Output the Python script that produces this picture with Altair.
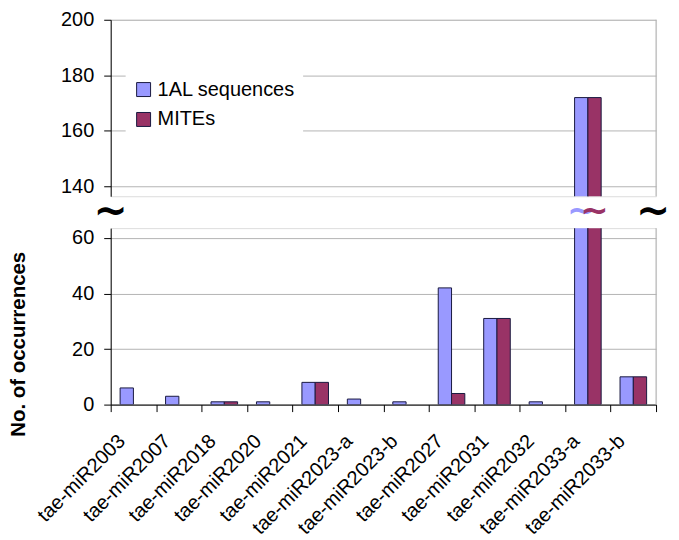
import altair as alt
import pandas as pd

categories = ["tae-miR2003", "tae-miR2007", "tae-miR2018", "tae-miR2020",
              "tae-miR2021", "tae-miR2023-a", "tae-miR2023-b", "tae-miR2027",
              "tae-miR2031", "tae-miR2032", "tae-miR2033-a", "tae-miR2033-b"]
al_seq = [6, 3, 1, 1, 8, 2, 1, 42, 31, 1, 172, 10]
mites = [0, 0, 1, 0, 8, 0, 0, 4, 31, 0, 172, 10]
series = ["1AL sequences", "MITEs"]
colors = ["#9999FF", "#993366"]
low_ticks = [0, 20, 40, 60]
high_ticks = [140, 160, 180, 200]

rows = []
for c, a, m in zip(categories, al_seq, mites):
    rows.append({"cat": c, "series": series[0], "value": a})
    rows.append({"cat": c, "series": series[1], "value": m})
df = pd.DataFrame(rows)
df = df[df["value"] > 0]

W, H = 547, 177
LOW_MAX, HIGH_MIN = 63.5, 136.5
FONT = "Liberation Sans"
EDGE = "#1a1a40"
GRID = "#b4b4b4"

xscale = alt.Scale(domain=categories, paddingInner=0, paddingOuter=0)
xoff = alt.XOffset("series:N", scale=alt.Scale(domain=series, paddingOuter=0.71, paddingInner=0))
color = alt.Color(
    "series:N",
    scale=alt.Scale(domain=series, range=colors),
    legend=alt.Legend(title=None, orient="none", legendX=15, legendY=52,
                      fillColor="white", padding=8, symbolType="square",
                      symbolSize=196, symbolStrokeColor=EDGE, symbolStrokeWidth=1,
                      labelFontSize=20, labelFont=FONT, labelColor="black",
                      rowPadding=10, labelOffset=4),
)

base = alt.Chart(df)

upper_bars = base.mark_bar(clip=True, stroke=EDGE, strokeWidth=1).encode(
    x=alt.X("cat:N", scale=xscale, sort=categories, axis=None),
    xOffset=xoff,
    y=alt.Y("value:Q",
            scale=alt.Scale(domain=[HIGH_MIN, 200], nice=False, zero=False),
            axis=alt.Axis(values=high_ticks, title=None, grid=True, gridColor=GRID,
                          labelFontSize=20, labelColor="black", labelPadding=10,
                          tickSize=7, tickColor="black", domainColor="black")),
    color=color,
)

border_df = pd.DataFrame({"k": [0]})
upper_border = alt.Chart(border_df).mark_rule(color=GRID, strokeWidth=1).encode(
    x=alt.value(W), y=alt.value(0), y2=alt.value(H))
lower_border = alt.Chart(border_df).mark_rule(color=GRID, strokeWidth=1).encode(
    x=alt.value(W), y=alt.value(0), y2=alt.value(H))

lower_bars = base.mark_bar(clip=True, stroke=EDGE, strokeWidth=1).encode(
    x=alt.X("cat:N", scale=xscale, sort=categories,
            axis=alt.Axis(title=None, labelAngle=-45, labelFontSize=20,
                          labelAlign="right", labelBaseline="top",
                          labelColor="black", tickBand="extent", tickSize=7,
                          tickColor="black", domainColor="black",
                          labelPadding=19, labelOffset=-19)),
    xOffset=xoff,
    y=alt.Y("value:Q",
            scale=alt.Scale(domain=[0, LOW_MAX], nice=False),
            axis=alt.Axis(values=low_ticks, title="No. of occurrences", grid=True,
                          gridColor=GRID, labelFontSize=20, labelColor="black",
                          labelPadding=10, tickSize=7, tickColor="black",
                          domainColor="black", titleFontSize=20.5,
                          titleFontWeight="bold", titleColor="black",
                          titleX=-92, titleY=116, titleAlign="center",
                          titleBaseline="middle")),
    color=color,
)

waves = []
for s, col in zip(series, colors):
    waves.append(
        base.transform_filter(
            (alt.datum.series == s) & (alt.datum.value > LOW_MAX)
        ).mark_text(text="~", fontSize=34, fontWeight="bold", font="DejaVu Sans",
                    color=col, baseline="middle").encode(
            x=alt.X("cat:N", scale=xscale, sort=categories),
            xOffset=xoff,
            y=alt.value(-16),
        )
    )

tilde_df = pd.DataFrame({"t": ["~", "~"], "side": [0, W - 3]})
tildes = alt.Chart(tilde_df).mark_text(
    fontSize=41, fontWeight="bold", font="DejaVu Sans", color="black",
    baseline="middle").encode(
    text="t:N", x=alt.X("side:Q", scale=None), y=alt.value(-16))

upper = alt.layer(upper_bars, upper_border).properties(width=W, height=H)
lower = alt.layer(lower_bars, *waves, tildes, lower_border).properties(width=W, height=H)

chart = alt.vconcat(
    upper, lower, spacing=32, bounds="flush", padding=0,
).configure_view(stroke=None).configure_axis(
    labelFont=FONT, titleFont=FONT).configure(font=FONT, background="white")

chart.save("out.html", embed_options={"renderer": "svg", "actions": False})
